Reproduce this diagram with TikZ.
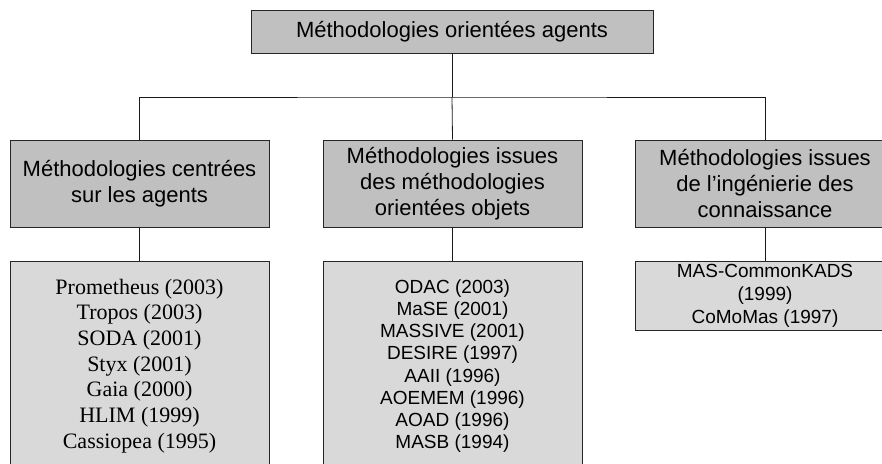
\documentclass[tikz,border=0pt]{standalone}
\usepackage{fontspec}
\setmainfont{Liberation Serif}
\setsansfont{Liberation Sans}
\begin{document}
\begin{tikzpicture}[x=1pt,y=-1pt,
  box/.style={draw=black!85, line width=0.8pt, align=center, inner sep=0pt},
  headbox/.style={box, fill=hdgray, font=\sffamily\fontsize{22}{26}\selectfont},
  listbox/.style={box, fill=lsgray},
  link/.style={draw=black!90, line width=0.8pt}]
\definecolor{hdgray}{RGB}{192,192,192}
\definecolor{lsgray}{RGB}{217,217,217}
\path[use as bounding box, clip] (0,0) rectangle (882,463);

% root
\node[headbox, minimum width=402pt, minimum height=43pt] (root) at (452,31.5)
  {Méthodologies orientées agents};

% families
\node[headbox, minimum width=259pt, minimum height=87pt] (fam1) at (139.5,183.5)
  {Méthodologies centrées\\sur les agents};
\node[headbox, minimum width=259pt, minimum height=87pt] (fam2) at (452.5,183.5)
  {Méthodologies issues\\des méthodologies\\orientées objets};
\node[headbox, minimum width=259pt, minimum height=87pt] (fam3) at (765,183.5)
  {Méthodologies issues\\de l’ingénierie des\\connaissance};

% method lists
\node[listbox, minimum width=259pt, minimum height=210pt,
      font=\rmfamily\fontsize{22}{25.7}\selectfont] (list1) at (139.5,366)
  {Prometheus (2003)\\Tropos (2003)\\SODA (2001)\\Styx (2001)\\Gaia (2000)\\HLIM (1999)\\Cassiopea (1995)};
\node[listbox, minimum width=259pt, minimum height=210pt,
      font=\sffamily\fontsize{19}{22.2}\selectfont] (list2) at (452.5,366)
  {ODAC (2003)\\MaSE (2001)\\MASSIVE (2001)\\DESIRE (1997)\\AAII (1996)\\AOEMEM (1996)\\AOAD (1996)\\MASB (1994)};
\node[listbox, minimum width=259pt, minimum height=69pt,
      font=\sffamily\fontsize{19}{23}\selectfont] (list3) at (765,295.5)
  {MAS-CommonKADS\\(1999)\\CoMoMas (1997)};

% tree connectors
\coordinate (bus) at (452,97);
\path[link] (root.south) -- (bus);
\path[link] (fam1.north) |- (bus) -| (fam3.north);
\path[link] (bus) -- (fam2.north);
\path[link] (fam1.south) -- (list1.north);
\path[link] (fam2.south) -- (list2.north);
\path[link] (fam3.south) -- (list3.north);
\end{tikzpicture}
\end{document}
